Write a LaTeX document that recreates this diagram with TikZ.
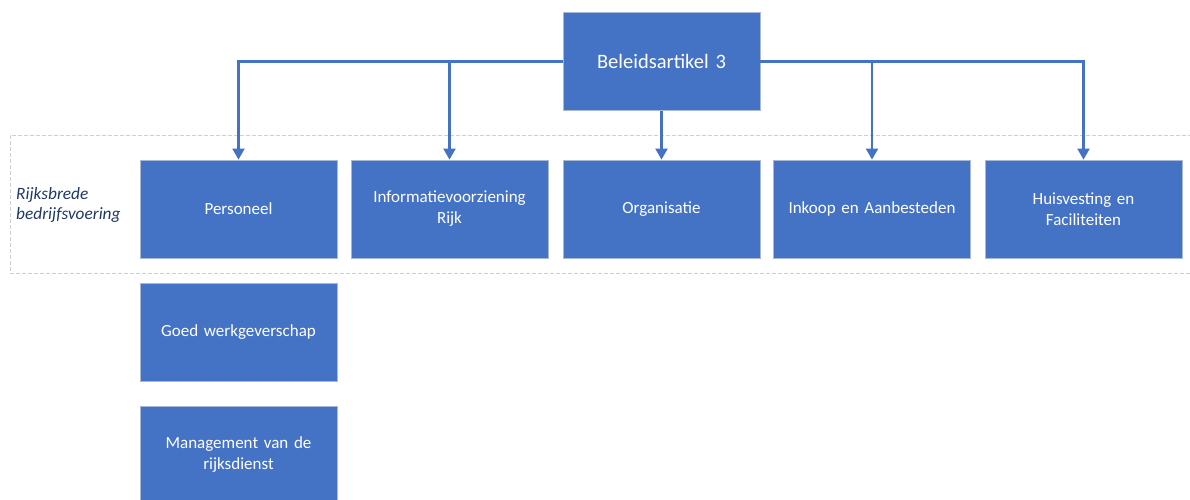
\documentclass[tikz,border=0pt]{standalone}
\usepackage{fontspec}
\setmainfont{Carlito}
\usetikzlibrary{arrows.meta}
\definecolor{boxblue}{HTML}{4472C4}
\definecolor{boxedge}{HTML}{A9B8D4}
\definecolor{dashgray}{HTML}{CFCFCF}
\definecolor{labelblue}{HTML}{1F3864}
\tikzset{
  box/.style={rectangle, fill=boxblue, draw=boxedge, line width=0.8pt, minimum width=197pt, minimum height=98pt, text width=185pt, align=center, text=white, font=\fontsize{17}{21}\selectfont, inner sep=0pt},
  topbox/.style={box, font=\fontsize{20.5}{24}\selectfont},
  conn/.style={draw=boxblue, line width=2.1pt, -{Triangle[width=12pt,length=11pt]}},
  frame/.style={draw=dashgray, line width=1pt, dash pattern=on 4pt off 2pt}
}
\begin{document}
\begin{tikzpicture}[x=1pt,y=-1pt]
\useasboundingbox (0,0) rectangle (1190,500);
\clip (0,0) rectangle (1190,500);
\draw[frame] (1192,135) -- (10,135) -- (10,273) -- (1192,273);
\node[topbox] (top) at (661.5,61.5) {Beleidsartikel 3};
\node[box] (pers) at (238.5,209) {Personeel};
\node[box] (info) at (449.5,209) {Informatievoorziening\\Rijk};
\node[box] (org) at (661.5,209) {Organisatie};
\node[box] (ink) at (872,209) {Inkoop en Aanbesteden};
\node[box] (huis) at (1083.5,209) {Huisvesting en\\Faciliteiten};
\node[box] (goed) at (238.5,332) {Goed werkgeverschap};
\node[box] (mgmt) at (238.5,455) {Management van de\\rijksdienst};
\node[anchor=west, align=left, text=labelblue, font=\fontsize{17.3}{20.5}\selectfont\itshape, inner sep=0pt] (lab) at (16,205) {Rijksbrede\\bedrijfsvoering};
\draw[conn] (top.west) -| (pers.north);
\draw[conn] (top.west) -| (info.north);
\draw[conn] (top.south) -- (org.north);
\draw[conn] (top.east) -| (ink.north);
\draw[conn] (top.east) -| (huis.north);
\end{tikzpicture}
\end{document}
